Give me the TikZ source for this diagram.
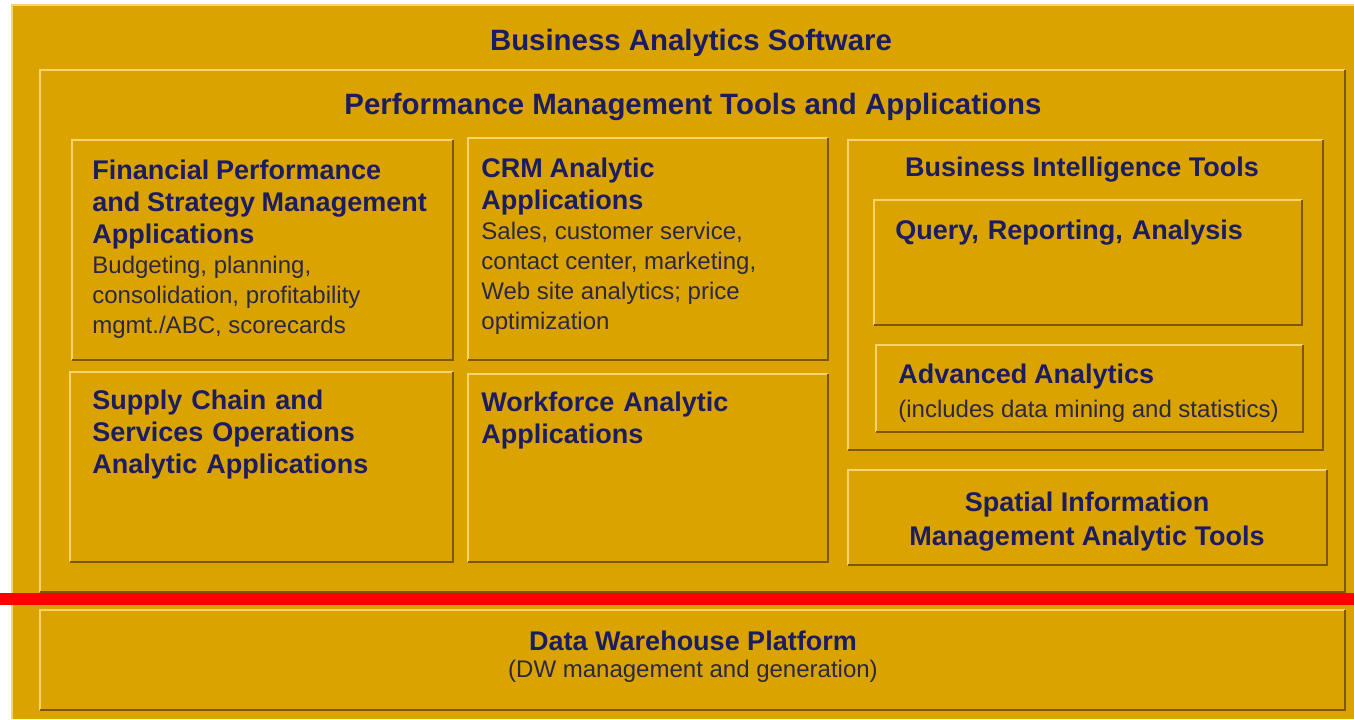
\documentclass[tikz,border=0pt]{standalone}
\usepackage{fontspec}
\setmainfont{Liberation Sans}
\definecolor{gold}{RGB}{218,163,0}
\definecolor{goldlight}{RGB}{250,212,105}
\definecolor{golddark}{RGB}{125,88,0}
\definecolor{navy}{RGB}{28,28,96}
\definecolor{bodytxt}{RGB}{44,40,66}
\definecolor{redline}{RGB}{255,0,0}
\newcommand\bigttl{\bfseries\fontsize{14.7}{17}\selectfont}
\newcommand\boxttl{\bfseries\fontsize{13.5}{16}\selectfont}
\newcommand\boxbody{\mdseries\fontsize{12}{15}\selectfont}
\newcommand\panel[5]{%
  \node[panelbox, anchor=north west, minimum width={(#4-#2)*0.5pt}, minimum height={(#5-#3)*0.5pt}] (#1) at (#2,#3) {};
  \draw[lightedge] (#1.south west) -- (#1.north west) -- (#1.north east);
  \draw[darkedge] (#1.north east) -- (#1.south east) -- (#1.south west);}
\tikzset{
  panelbox/.style={rectangle, fill=gold, draw=none, inner sep=0pt, outer sep=0pt},
  lightedge/.style={draw=goldlight, line width=1pt},
  darkedge/.style={draw=golddark, line width=1pt},
  ttl/.style={text=navy, inner sep=0pt, font=\bigttl},
  blocktxt/.style={text=navy, inner sep=0pt, anchor=north west, text width=200pt, align=left},
}
\begin{document}
\begin{tikzpicture}[x=0.5pt,y=-0.5pt]
\useasboundingbox (0,0) rectangle (1354,719);
\fill[white] (0,0) rectangle (1354,719);
\node[panelbox, anchor=north west, minimum width=671pt, minimum height=357pt] (outer) at (12,5) {};
\draw[goldlight, line width=0.6pt] (outer.south west) -- (outer.north west) -- (outer.north east);
\node[ttl] (tbas) at (691,43) {Business Analytics Software};
\panel{perf}{40}{70}{1345}{592}
\node[ttl] (tperf) at (693,107) {Performance Management Tools and Applications};
\panel{fin}{72}{140}{453}{360}
\panel{crm}{468}{138}{828}{360}
\panel{sup}{70}{372}{453}{562}
\panel{wf}{468}{374}{828}{562}
\panel{bi}{848}{140}{1323}{450}
\panel{qry}{874}{200}{1302}{325}
\panel{adv}{876}{345}{1303}{432}
\panel{spa}{848}{470}{1327}{565}
\panel{dw}{40}{610}{1345}{710}
\node[blocktxt] (tfin) at (92,160) {\boxttl Financial Performance\\and Strategy Management\\Applications\par\boxbody\color{bodytxt}Budgeting, planning,\\consolidation, profitability\\mgmt./ABC, scorecards\par};
\node[blocktxt] (tcrm) at (481,158) {\boxttl CRM Analytic\\Applications\par\boxbody\color{bodytxt}Sales, customer service,\\contact center, marketing,\\Web site analytics; price\\optimization\par};
\node[blocktxt, font=\boxttl] (tsup) at (92,390) {Supply Chain and\\Services Operations\\Analytic Applications};
\node[blocktxt, font=\boxttl] (twf) at (481,392) {Workforce Analytic\\Applications};
\node[ttl, font=\boxttl] (tbi) at (1082,170) {Business Intelligence Tools};
\node[blocktxt, font=\boxttl] (tqry) at (895,220) {Query, Reporting, Analysis};
\node[blocktxt] (tadv) at (898,364) {\boxttl Advanced Analytics\par\vspace{2pt}\boxbody\color{bodytxt}(includes data mining and statistics)\par};
\node[text=navy, inner sep=0pt, align=center, font={\bfseries\fontsize{13.5}{17}\selectfont}] (tspa) at (1087,522) {Spatial Information\\Management Analytic Tools};
\node[ttl, font=\boxttl] (tdw) at (693,641) {Data Warehouse Platform};
\node[text=bodytxt, inner sep=0pt, font=\boxbody] (tdws) at (693,671) {(DW management and generation)};
\fill[redline] (0,593) rectangle (1354,605);
\end{tikzpicture}
\end{document}
